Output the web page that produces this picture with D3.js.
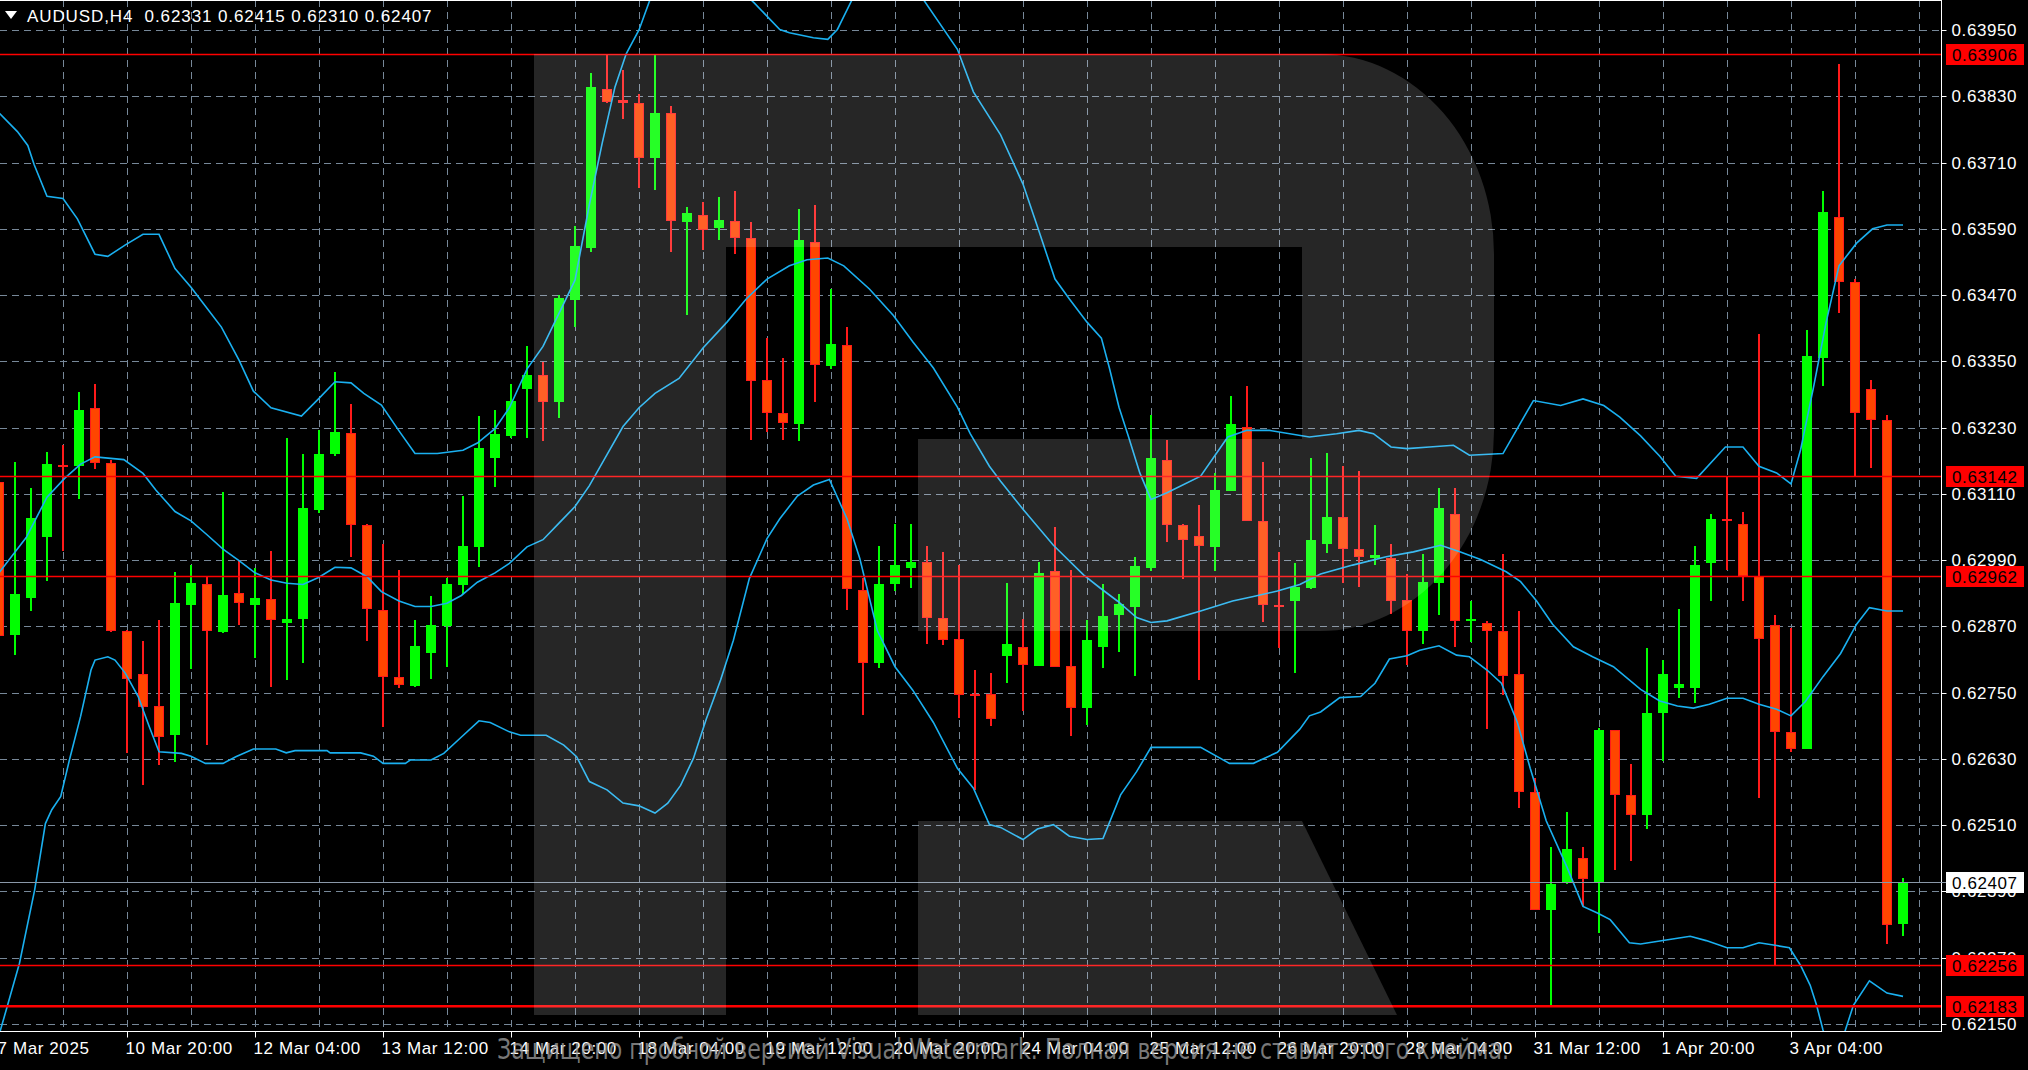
<!DOCTYPE html>
<html><head><meta charset="utf-8">
<script src="https://cdnjs.cloudflare.com/ajax/libs/d3/7.8.5/d3.min.js"></script>
<style>html,body{margin:0;padding:0;background:#000;overflow:hidden}svg{display:block}</style>
</head><body><svg id="c" width="2028" height="1070"></svg>
<script>
// ---------------- DATA ----------------
const headerText = "AUDUSD,H4  0.62331 0.62415 0.62310 0.62407";
const firstBar = -1; // bar index of first (partially visible) candle
const open  = [0.63131,0.62854,0.62922,0.63031,0.63162,0.63161,0.63265,0.63166,0.62862,0.62783,0.62725,0.62673,0.62909,0.62946,0.62860,0.62931,0.62909,0.62920,0.62876,0.62883,0.63081,0.63183,0.63221,0.63054,0.62899,0.62779,0.62762,0.62822,0.62871,0.62945,0.63013,0.63175,0.63215,0.63299,0.63326,0.63277,0.63461,0.63555,0.63843,0.63824,0.63818,0.63719,0.63800,0.63602,0.63615,0.63592,0.63605,0.63573,0.63317,0.63257,0.63237,0.63567,0.63342,0.63380,0.62936,0.62803,0.62946,0.62976,0.62987,0.62886,0.62848,0.62748,0.62747,0.62817,0.62833,0.62799,0.62970,0.62799,0.62722,0.62833,0.62890,0.62905,0.62976,0.63172,0.63053,0.63033,0.63014,0.63115,0.63231,0.63061,0.62909,0.62916,0.62940,0.63019,0.63068,0.63011,0.62993,0.62993,0.62918,0.62862,0.62948,0.63073,0.62880,0.62877,0.62862,0.62783,0.62571,0.62357,0.62408,0.62450,0.62408,0.62682,0.62565,0.62529,0.62713,0.62758,0.62759,0.62984,0.63064,0.63056,0.62961,0.62872,0.62678,0.62648,0.63356,0.63612,0.63493,0.63300,0.63243,0.62331];
const high  = [0.63150,0.63168,0.63121,0.63185,0.63198,0.63294,0.63309,0.63171,0.62864,0.62843,0.62882,0.62969,0.62982,0.62959,0.63113,0.62990,0.62976,0.63007,0.63211,0.63183,0.63225,0.63330,0.63273,0.63055,0.63020,0.62972,0.62882,0.62925,0.62957,0.63106,0.63251,0.63262,0.63309,0.63377,0.63349,0.63471,0.63595,0.63873,0.63906,0.63877,0.63835,0.63906,0.63813,0.63630,0.63638,0.63648,0.63659,0.63602,0.63392,0.63356,0.63626,0.63633,0.63481,0.63413,0.62958,0.63015,0.63055,0.63055,0.63015,0.63005,0.62981,0.62791,0.62785,0.62948,0.62884,0.62987,0.63050,0.62972,0.62881,0.62946,0.62928,0.62996,0.63252,0.63207,0.63055,0.63089,0.63148,0.63287,0.63305,0.63168,0.63005,0.62985,0.63175,0.63184,0.63160,0.63151,0.63053,0.63019,0.62964,0.63001,0.63121,0.63121,0.62916,0.62880,0.63001,0.62898,0.62595,0.62470,0.62533,0.62470,0.62686,0.62683,0.62621,0.62830,0.62809,0.62902,0.63015,0.63073,0.63140,0.63077,0.63400,0.62890,0.62868,0.63407,0.63659,0.63889,0.63499,0.63317,0.63252,0.62415];
const low   = [0.62830,0.62818,0.62897,0.62952,0.63006,0.63100,0.63155,0.62860,0.62640,0.62583,0.62619,0.62625,0.62792,0.62655,0.62858,0.62872,0.62813,0.62760,0.62773,0.62803,0.63076,0.63179,0.62995,0.62843,0.62687,0.62758,0.62760,0.62775,0.62796,0.62929,0.62977,0.63123,0.63211,0.63211,0.63205,0.63248,0.63412,0.63548,0.63818,0.63788,0.63664,0.63661,0.63548,0.63433,0.63552,0.63570,0.63544,0.63207,0.63222,0.63207,0.63205,0.63276,0.63336,0.62900,0.62710,0.62795,0.62934,0.62940,0.62839,0.62836,0.62705,0.62574,0.62690,0.62767,0.62717,0.62799,0.62797,0.62672,0.62692,0.62795,0.62824,0.62781,0.62970,0.63023,0.62955,0.62773,0.62970,0.63115,0.63061,0.62878,0.62830,0.62785,0.62937,0.63003,0.62948,0.62942,0.62981,0.62892,0.62801,0.62839,0.62890,0.62833,0.62841,0.62684,0.62746,0.62541,0.62357,0.62184,0.62404,0.62363,0.62315,0.62428,0.62446,0.62503,0.62627,0.62741,0.62732,0.62916,0.62973,0.62916,0.62559,0.62256,0.62642,0.62648,0.63306,0.63437,0.63142,0.63157,0.62295,0.62310];
const close = [0.62852,0.62929,0.63066,0.63164,0.63160,0.63262,0.63166,0.62862,0.62775,0.62724,0.62670,0.62912,0.62948,0.62862,0.62926,0.62913,0.62921,0.62881,0.62884,0.63084,0.63183,0.63222,0.63054,0.62901,0.62779,0.62764,0.62835,0.62873,0.62946,0.63016,0.63193,0.63218,0.63279,0.63326,0.63277,0.63465,0.63559,0.63847,0.63820,0.63818,0.63719,0.63800,0.63604,0.63618,0.63588,0.63606,0.63573,0.63314,0.63257,0.63239,0.63570,0.63344,0.63382,0.62937,0.62803,0.62946,0.62981,0.62987,0.62886,0.62845,0.62746,0.62746,0.62702,0.62839,0.62801,0.62967,0.62797,0.62723,0.62845,0.62889,0.62910,0.62979,0.63175,0.63053,0.63026,0.63015,0.63117,0.63237,0.63061,0.62908,0.62906,0.62942,0.63027,0.63068,0.63011,0.62996,0.62999,0.62916,0.62862,0.62951,0.63085,0.62880,0.62884,0.62862,0.62781,0.62571,0.62357,0.62404,0.62467,0.62413,0.62682,0.62565,0.62529,0.62713,0.62783,0.62765,0.62981,0.63065,0.63061,0.62961,0.62848,0.62678,0.62648,0.63360,0.63620,0.63493,0.63257,0.63243,0.62329,0.62407];

// Bollinger bands: [bar index, price]
const upperBand = [[-1,0.63800],[0.15,0.63766],[0.8,0.63741],[1.2,0.63706],[2,0.63649],[3,0.63645],[3.9,0.63608],[5,0.63544],[5.8,0.63540],[6.9,0.63561],[8,0.63580],[9,0.63580],[10,0.63518],[11,0.63484],[12,0.63446],[12.9,0.63412],[14,0.63352],[14.9,0.63296],[16,0.63266],[17.9,0.63251],[19,0.63283],[20,0.63313],[21,0.63311],[21.8,0.63292],[22.9,0.63271],[24,0.63224],[25,0.63183],[26.4,0.63183],[28,0.63189],[28.9,0.63202],[30,0.63228],[30.9,0.63266],[32,0.63336],[33,0.63377],[34,0.63437],[35,0.63497],[35.9,0.63634],[36.7,0.63745],[37.5,0.63847],[38.2,0.63907],[39,0.63950],[40,0.64030],[42,0.64100],[44,0.64060],[46.2,0.63999],[47.8,0.63951],[48.4,0.63945],[49.9,0.63936],[50.8,0.63933],[51.4,0.63951],[52.3,0.64004],[54.5,0.64050],[56.8,0.64004],[58.9,0.63915],[59.9,0.63838],[61.6,0.63760],[63,0.63671],[63.9,0.63594],[65,0.63499],[65.9,0.63463],[67,0.63421],[67.9,0.63392],[68.4,0.63338],[69,0.63267],[69.6,0.63213],[70.3,0.63148],[71,0.63100],[72,0.63112],[74.1,0.63142],[75.8,0.63213],[77,0.63225],[78.4,0.63225],[80.9,0.63213],[82.6,0.63219],[84,0.63225],[84.9,0.63219],[86,0.63195],[87,0.63192],[88.4,0.63195],[89.9,0.63198],[90.9,0.63180],[93,0.63183],[94.9,0.63279],[96.6,0.63270],[98,0.63282],[99.3,0.63270],[100.3,0.63249],[101.6,0.63215],[102.8,0.63178],[103.8,0.63142],[105.1,0.63138],[106.9,0.63195],[108,0.63195],[109,0.63160],[110.1,0.63148],[111,0.63128],[111.6,0.63190],[112.4,0.63302],[113.2,0.63421],[114,0.63523],[115.1,0.63564],[116.1,0.63590],[117,0.63597],[118,0.63597]];
const middleBand = [[-1,0.62967],[0.7,0.63031],[2,0.63104],[3.1,0.63138],[4.1,0.63164],[5,0.63177],[6.8,0.63172],[8,0.63147],[8.8,0.63117],[10,0.63078],[11,0.63061],[12,0.63036],[13,0.63010],[14,0.62989],[15,0.62967],[16,0.62954],[17,0.62948],[18,0.62946],[19,0.62959],[20,0.62977],[21,0.62976],[22,0.62960],[22.9,0.62933],[24,0.62916],[25,0.62906],[26,0.62906],[27,0.62912],[27.9,0.62926],[28.9,0.62950],[30,0.62967],[30.9,0.62984],[32,0.63014],[33,0.63027],[34,0.63057],[35,0.63087],[35.9,0.63125],[37,0.63181],[38,0.63232],[39,0.63266],[40,0.63292],[41.5,0.63319],[43,0.63374],[44.5,0.63421],[45.7,0.63463],[47,0.63499],[48.4,0.63523],[49.5,0.63534],[50.8,0.63537],[51.8,0.63523],[53.4,0.63481],[54.9,0.63433],[56.1,0.63386],[57.4,0.63338],[58.9,0.63267],[59.7,0.63219],[60.9,0.63160],[61.6,0.63133],[63,0.63082],[64.9,0.63017],[66.8,0.62963],[67.8,0.62940],[68.9,0.62916],[70.1,0.62886],[71,0.62877],[72,0.62880],[74.1,0.62898],[76.1,0.62916],[77.4,0.62924],[78.9,0.62934],[80.3,0.62946],[81.6,0.62965],[83.6,0.62981],[85.7,0.62996],[87.4,0.63005],[89.1,0.63017],[90.3,0.63005],[91.6,0.62991],[93.2,0.62969],[94.1,0.62951],[95.1,0.62916],[96.1,0.62874],[97.4,0.62833],[98.6,0.62815],[99.9,0.62797],[101.6,0.62756],[102.8,0.62735],[103.9,0.62726],[104.9,0.62722],[105.9,0.62729],[107,0.62740],[108,0.62740],[109,0.62729],[110.1,0.62720],[111,0.62708],[111.9,0.62734],[113,0.62779],[114.1,0.62821],[115.1,0.62874],[115.9,0.62904],[117,0.62898],[118,0.62898]];
const lowerBand = [[-1,0.62130],[-0.67,0.62163],[0.28,0.62260],[1.23,0.62393],[1.9,0.62513],[2.3,0.62538],[2.86,0.62562],[3.4,0.62628],[4.1,0.62707],[4.75,0.62791],[5,0.62809],[5.8,0.62815],[6.25,0.62809],[6.9,0.62785],[7.7,0.62743],[8.4,0.62688],[9,0.62643],[10.4,0.62640],[11,0.62635],[11.9,0.62622],[13,0.62622],[13.8,0.62634],[14.9,0.62648],[16.3,0.62648],[16.95,0.62641],[17.5,0.62645],[19.5,0.62645],[19.7,0.62641],[21.6,0.62641],[22.4,0.62635],[23,0.62622],[24.4,0.62622],[24.7,0.62628],[26,0.62628],[26.8,0.62640],[27.8,0.62667],[29,0.62699],[29.7,0.62696],[30.9,0.62679],[31.6,0.62673],[33.2,0.62673],[34.3,0.62655],[35.1,0.62634],[35.9,0.62589],[37,0.62574],[38,0.62550],[39,0.62545],[40,0.62532],[40.8,0.62550],[41.6,0.62582],[42.4,0.62631],[43.2,0.62702],[44.1,0.62773],[44.9,0.62845],[45.9,0.62957],[47,0.63029],[47.8,0.63065],[48.9,0.63106],[49.9,0.63126],[50.9,0.63136],[52,0.63065],[52.8,0.62993],[53.9,0.62862],[55,0.62797],[56.1,0.62755],[57.4,0.62696],[58.9,0.62613],[59.9,0.62577],[60.9,0.62511],[61.6,0.62506],[63,0.62484],[63.9,0.62503],[64.9,0.62511],[65.9,0.62490],[67,0.62484],[68,0.62486],[69.1,0.62565],[70.1,0.62607],[71,0.62651],[72.4,0.62651],[74.1,0.62651],[75.9,0.62622],[77.4,0.62622],[78.9,0.62642],[80.3,0.62684],[80.9,0.62708],[81.6,0.62715],[82.8,0.62741],[84.1,0.62743],[85,0.62767],[85.9,0.62811],[87,0.62817],[87.8,0.62827],[89,0.62835],[90.1,0.62818],[90.9,0.62815],[92,0.62791],[92.9,0.62767],[93.9,0.62696],[94.7,0.62613],[95.7,0.62518],[97,0.62434],[98,0.62363],[98.9,0.62351],[99.7,0.62339],[100.9,0.62297],[101.6,0.62295],[103.4,0.62303],[104.7,0.62309],[105.7,0.62301],[107,0.62288],[108,0.62288],[109,0.62297],[110.1,0.62292],[110.9,0.62288],[111.6,0.62256],[112.2,0.62220],[112.6,0.62184],[113,0.62139],[113.7,0.62080],[114.4,0.62139],[114.9,0.62184],[115.9,0.62228],[117,0.62206],[118,0.62200]];

const xTickBars = [-1,7,15,23,31,39,47,55,63,71,79,87,95,103,111];
const xTickLabels = ["7 Mar 2025","10 Mar 20:00","12 Mar 04:00","13 Mar 12:00","14 Mar 20:00","18 Mar 04:00","19 Mar 12:00","20 Mar 20:00","24 Mar 04:00","25 Mar 12:00","26 Mar 20:00","28 Mar 04:00","31 Mar 12:00","1 Apr 20:00","3 Apr 04:00"];
const yTicks = [0.62150,0.62270,0.62390,0.62510,0.62630,0.62750,0.62870,0.62990,0.63110,0.63230,0.63350,0.63470,0.63590,0.63710,0.63830,0.63950];
const levelLines = [0.63906,0.63142,0.62962,0.62256,0.62183];
const lastPrice = 0.62407;
const watermarkText = "Защищено пробной версией Visual Watermark. Полная версия не ставит этого клейма.";

// ---------------- LAYOUT / STYLE ----------------
const W = 2028, H = 1070, plotR = 1941, plotB = 1031;
const FONT = "'Liberation Sans', Arial, sans-serif";
const bull = "#00ff00", bearFill = "#ff4500", bearLine = "#ff1a1a";
const bandColor = "#1ab0f0", gridColor = "#778899";

const svg = d3.select("#c");
svg.append("rect").attr("width", W).attr("height", H).attr("fill", "#000");

const bars = d3.range(open.length).map(i => ({k: i + firstBar, o: open[i], h: high[i], l: low[i], c: close[i]}));
const x = d3.scaleLinear().domain([-1, 118]).range([-1, 1903]);
const y = d3.scaleLinear().domain([0.62150, 0.63950]).range([1024, 30]);
const px = v => Math.round(v) + 0.5;

svg.append("defs").append("clipPath").attr("id", "plot")
  .append("rect").attr("x", 0).attr("y", 1).attr("width", plotR).attr("height", plotB - 1);

const g = svg.append("g").attr("clip-path", "url(#plot)");

// grid
const gridBars = d3.range(3, 120, 4);
g.append("g").selectAll("line").data(gridBars).join("line")
  .attr("x1", d => px(x(d))).attr("x2", d => px(x(d)))
  .attr("y1", 0).attr("y2", plotB)
  .attr("stroke", gridColor).attr("stroke-dasharray", "7,5");
g.append("g").selectAll("line").data(yTicks).join("line")
  .attr("x1", 0).attr("x2", plotR)
  .attr("y1", d => px(y(d))).attr("y2", d => px(y(d)))
  .attr("stroke", gridColor).attr("stroke-dasharray", "7,5");

// candles
const cg = g.append("g");
bars.forEach(b => {
  const cx = Math.round(x(b.k));
  const up = b.c >= b.o;
  const col = up ? bull : bearLine;
  const yh = Math.round(y(b.h)), yl = Math.round(y(b.l));
  cg.append("rect").attr("x", cx - 1).attr("width", 2)
    .attr("y", yh).attr("height", Math.max(1, yl - yh)).attr("fill", col);
  const yt = Math.round(y(Math.max(b.o, b.c))), yb = Math.round(y(Math.min(b.o, b.c)));
  const hgt = Math.max(2, yb - yt);
  if (up) {
    cg.append("rect").attr("x", cx - 5).attr("width", 10).attr("y", yt).attr("height", hgt).attr("fill", bull);
  } else {
    cg.append("rect").attr("x", cx - 5).attr("width", 10).attr("y", yt).attr("height", hgt).attr("fill", bearLine);
    if (hgt > 3) cg.append("rect").attr("x", cx - 4).attr("width", 8).attr("y", yt + 1).attr("height", hgt - 2).attr("fill", bearFill);
  }
});

// bands
const line = d3.line().x(d => x(d[0])).y(d => y(d[1]));
[upperBand, middleBand, lowerBand].forEach(bd => {
  g.append("path").attr("d", line(bd)).attr("fill", "none")
    .attr("stroke", bandColor).attr("stroke-width", 1.6);
});

// horizontal level lines
g.append("g").selectAll("rect").data(levelLines).join("rect")
  .attr("x", 0).attr("width", plotR)
  .attr("y", (d, i) => Math.round(y(d)) - (i === levelLines.length - 1 ? 1 : 0.25))
  .attr("height", (d, i) => i === levelLines.length - 1 ? 2.5 : 1.5)
  .attr("fill", "#ff0000");
// current price line
g.append("rect").attr("x", 0).attr("width", plotR)
  .attr("y", Math.round(y(lastPrice))).attr("height", 1).attr("fill", "#8a98a8");

// watermark logo overlay
const wm = svg.append("g").attr("fill", "#ffffff").attr("fill-opacity", 0.15).attr("clip-path", "url(#plot)");
wm.append("path").attr("d",
  "M534,54 H1320 A174,200 0 0 1 1494,254 V431 A174,200 0 0 1 1320,631 H918 V439 H1302 V247 H726 V1015 H534 Z");
wm.append("path").attr("d", "M918,821 H1302 L1397,1015 H918 Z");

// axes frame
svg.append("line").attr("x1", 0).attr("x2", plotR + 1).attr("y1", 0.5).attr("y2", 0.5).attr("stroke", "#fff");
svg.append("line").attr("x1", plotR + 0.5).attr("x2", plotR + 0.5).attr("y1", 0).attr("y2", plotB + 1).attr("stroke", "#fff");
svg.append("line").attr("x1", 0).attr("x2", plotR + 1).attr("y1", plotB + 0.5).attr("y2", plotB + 0.5).attr("stroke", "#fff");

// right price axis
const yAxis = d3.axisRight(y).tickValues(yTicks).tickFormat(d3.format(".5f")).tickSize(5).tickPadding(5);
const ya = svg.append("g").attr("transform", `translate(${plotR + 0.5},0)`).call(yAxis);
ya.select(".domain").remove();
ya.selectAll(".tick").attr("transform", d => `translate(0,${px(y(d))})`);
ya.selectAll(".tick line").attr("stroke", "#fff");
ya.selectAll(".tick text").attr("fill", "#fff").attr("font-family", FONT).attr("font-size", 17)
  .attr("letter-spacing", 0.6).attr("dy", "0.35em");

// bottom time axis
const xAxis = d3.axisBottom(x).tickValues(xTickBars).tickFormat((d, i) => xTickLabels[i]).tickSize(6).tickPadding(3);
const xa = svg.append("g").attr("transform", `translate(0,${plotB + 0.5})`).call(xAxis);
xa.select(".domain").remove();
xa.selectAll(".tick").attr("transform", d => `translate(${px(x(d))},0)`);
xa.selectAll(".tick line").attr("stroke", "#fff");
xa.selectAll(".tick text").attr("fill", "#fff").attr("font-family", FONT).attr("font-size", 17)
  .attr("letter-spacing", 0.6).attr("text-anchor", "start").attr("x", -2).attr("y", 10).attr("dy", "0.71em");

// price boxes
const boxes = levelLines.map(v => ({v, bg: "#ff0000", fg: "#000"})).concat([{v: lastPrice, bg: "#ffffff", fg: "#000"}]);
const bx = svg.append("g");
boxes.forEach(b => {
  const cy = Math.round(y(b.v));
  bx.append("rect").attr("x", plotR + 5).attr("y", cy - 10).attr("width", 78).attr("height", 21).attr("fill", b.bg);
  bx.append("text").attr("x", plotR + 11).attr("y", cy + 1).attr("dy", "0.35em")
    .attr("fill", b.fg).attr("font-family", FONT).attr("font-size", 17).attr("letter-spacing", 0.6)
    .text(d3.format(".5f")(b.v));
});
// current price line stub into axis
svg.append("rect").attr("x", plotR).attr("width", 5).attr("y", Math.round(y(lastPrice))).attr("height", 1).attr("fill", "#8a98a8");

// header
svg.append("path").attr("d", "M5,11 L17,11 L11,19 Z").attr("fill", "#fff");
svg.append("text").attr("x", 27).attr("y", 16).attr("dy", "0.35em").attr("fill", "#fff")
  .attr("font-family", FONT).attr("font-size", 17).attr("letter-spacing", 0.9)
  .attr("xml:space", "preserve").style("white-space", "pre").text(headerText);

// trial watermark text (overlaps the date labels, as in the original)
svg.append("text").attr("x", 497).attr("y", 1059).attr("fill", "#a0a0a0").attr("fill-opacity", 0.75)
  .attr("font-family", "'Liberation Sans Narrow', 'DejaVu Sans Condensed', sans-serif").attr("font-size", 29)
  .attr("textLength", 1012).attr("lengthAdjust", "spacingAndGlyphs").text(watermarkText);
</script>
</body></html>
